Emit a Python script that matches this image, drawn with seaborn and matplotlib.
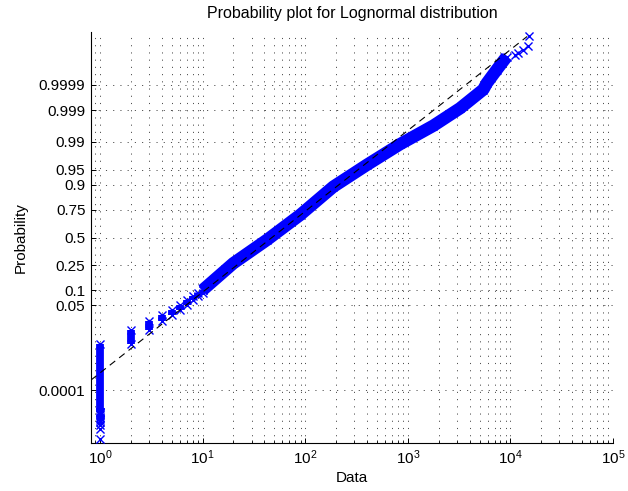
import numpy as np
import pandas as pd
import matplotlib
matplotlib.use("Agg")
import matplotlib.pyplot as plt
import seaborn as sns
from statistics import NormalDist
from matplotlib.ticker import LogLocator, LogFormatterSciNotation, NullFormatter, NullLocator

# ---------------- data ----------------
N_OBS = 1_000_000

# low end of the sample: integer values, cumulative probability at top of each column
int_values = [1, 2, 3, 4, 5, 6, 7, 8, 9, 10]
int_cum_prob = [0.0048, 0.0125, 0.0207, 0.0294, 0.0392, 0.0505, 0.0643, 0.0764, 0.0869, 0.1003]

# dense part of the sample (values and cumulative probabilities along the band)
band_values = [10, 19.9, 42.2, 89.0, 188, 397, 839, 1774, 3228, 5445, 5875, 7350, 9200]
band_prob = [0.1003, 0.265, 0.4757, 0.7078, 0.8918, 0.9611, 0.9884, 0.99674,
             0.999167, 0.999841, 0.999912, 0.9999775, 0.9999946]

# largest observations, from the maximum downwards
tail_values = [15290, 14940, 13300, 11810, 11090]
# number of smallest observations (all equal to 1) drawn as separate markers
n_low_marks = 12

# fitted lognormal reference line (natural-log parameters)
fit_mu = 3.859
fit_sigma = 1.171

prob_ticks = [0.0001, 0.05, 0.1, 0.25, 0.5, 0.75, 0.9, 0.95, 0.99, 0.999, 0.9999]
prob_tick_labels = ["0.0001", "0.05", "0.1", "0.25", "0.5", "0.75", "0.9", "0.95",
                    "0.99", "0.999", "0.9999"]

# ---------------- style ----------------
sns.set_theme(style="white")
plt.rcParams["font.family"] = ["Liberation Sans", "DejaVu Sans"]
plt.rcParams["mathtext.fontset"] = "custom"
plt.rcParams["mathtext.rm"] = "Liberation Sans"
plt.rcParams["mathtext.default"] = "regular"
plt.rcParams["lines.scale_dashes"] = False

nd = NormalDist()
probit = nd.inv_cdf

BLUE = "#0000ff"
MS = 5.8
MEW = 1.0
COL_LW = 5.6
BAND_LW = 9.0

fig = plt.figure(figsize=(6.28, 4.91), dpi=100)
ax = fig.add_axes([91 / 628, 1 - 443 / 491, (613 - 91) / 628, (443 - 32) / 491])

# grid: dotted, x major+minor, y major only
grid_kw = dict(color="0.3", linewidth=0.7, linestyle=(0, (0.8, 4.4)))
ax.grid(True, which="major", axis="both", **grid_kw)
ax.grid(True, which="minor", axis="x", **grid_kw)
ax.set_axisbelow(True)

# ---- low integer columns ----
prev = None
for i, (v, p) in enumerate(zip(int_values, int_cum_prob)):
    z_hi = probit(p)
    if i == 0:
        ranks = np.arange(1, n_low_marks + 1)
        z_marks = [probit((r - 0.5) / N_OBS) for r in ranks]
        sns.scatterplot(x=[v] * len(z_marks), y=z_marks, marker="x", s=MS ** 2,
                        color=BLUE, linewidth=MEW, ax=ax, zorder=3)
        z_lo = z_marks[-1]
    else:
        z_lo = probit(prev)
    ax.plot([v, v], [z_lo, z_hi], color=BLUE, lw=COL_LW, solid_capstyle="butt", zorder=3)
    ax.plot([v, v], [z_lo, z_hi], ls="none", marker="x", ms=MS, mew=MEW, color=BLUE, zorder=3)
    prev = p

# ---- dense band ----
band = pd.DataFrame({"value": band_values, "z": [probit(p) for p in band_prob]})
sns.lineplot(data=band, x="value", y="z", sort=False, estimator=None, color=BLUE,
             lw=BAND_LW, ax=ax, zorder=3, solid_capstyle="butt", solid_joinstyle="round")
ax.plot(band["value"], band["z"], ls="none", marker="x", ms=MS, mew=MEW, color=BLUE, zorder=3)

# ---- upper tail ----
tail = pd.DataFrame({"value": tail_values,
                     "z": [probit((N_OBS - r - 0.5) / N_OBS) for r in range(len(tail_values))]})
sns.scatterplot(data=tail, x="value", y="z", marker="x", s=MS ** 2, color=BLUE,
                linewidth=MEW, ax=ax, zorder=3)

# ---- fitted reference line ----
x_left = 0.817
z_top = probit((N_OBS - 0.5) / N_OBS)
x_right = np.exp(fit_mu + z_top * fit_sigma)
lx = np.array([x_left, x_right])
ref = pd.DataFrame({"value": lx, "z": (np.log(lx) - fit_mu) / fit_sigma})
sns.lineplot(data=ref, x="value", y="z", color="black", lw=0.8, ax=ax, zorder=4,
             linestyle=(0, (5.0, 3.6)), estimator=None, sort=False)

# ---------------- axes ----------------
ax.set_xscale("log")
ax.set_xlim(x_left, 1e5)
ax.set_ylim(-5, 5)
ax.xaxis.set_major_locator(LogLocator(base=10, numticks=20))
ax.xaxis.set_minor_locator(LogLocator(base=10, subs=np.arange(2, 10) * 1.0, numticks=20))
ax.xaxis.set_major_formatter(LogFormatterSciNotation())
ax.xaxis.set_minor_formatter(NullFormatter())
ax.set_yticks([probit(p) for p in prob_ticks])
ax.set_yticklabels(prob_tick_labels)
ax.yaxis.set_minor_locator(NullLocator())

for s in ["top", "right"]:
    ax.spines[s].set_visible(False)
for s in ["left", "bottom"]:
    ax.spines[s].set_color("black")
    ax.spines[s].set_linewidth(0.8)

ax.tick_params(axis="both", which="major", direction="in", length=3.8, width=0.7,
               color="black", labelsize=11, pad=4, bottom=True, left=True,
               top=False, right=False, labelcolor="black")
ax.tick_params(axis="x", which="minor", direction="in", length=2.2, width=0.6,
               color="black", bottom=True, top=False)

ax.set_xlabel("Data", fontsize=11, labelpad=3, color="black")
ax.set_ylabel("Probability", fontsize=11, labelpad=8, color="black")
ax.set_title("Probability plot for Lognormal distribution", fontsize=11.5, pad=10,
             color="black")

fig.savefig("out.png", dpi=100)
